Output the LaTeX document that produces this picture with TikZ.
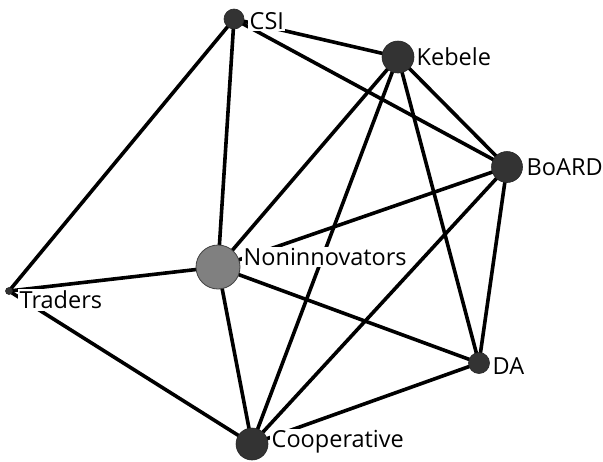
\documentclass[tikz,border=0pt]{standalone}
\usepackage{fontspec}
\setmainfont{Open Sans}
\begin{document}
\begin{tikzpicture}[x=1pt,y=-1pt,
  actor/.style={circle,fill=black!80,draw=black!85,line width=0.6pt,inner sep=0pt,minimum size=#1},
  grayactor/.style={circle,fill=black!50,draw=black!75,line width=0.8pt,inner sep=0pt,minimum size=#1},
  lbl/.style={anchor=west,inner sep=1.5pt,fill=white,font=\fontsize{23.5}{26}\selectfont},
  tie/.style={line width=3.6pt,black}]
\useasboundingbox (0,0) rectangle (603,461);
% node positions
\coordinate (pCSI) at (234,19);
\coordinate (pKeb) at (398,57);
\coordinate (pBo) at (507,167);
\coordinate (pNon) at (218,267);
\coordinate (pTr) at (9,291);
\coordinate (pDA) at (479,363);
\coordinate (pCo) at (252,444);
% ties
\draw[tie] (pCSI) -- (pKeb);
\draw[tie] (pCSI) -- (pBo);
\draw[tie] (pCSI) -- (pTr);
\draw[tie] (pCSI) -- (pNon);
\draw[tie] (pKeb) -- (pBo);
\draw[tie] (pKeb) -- (pNon);
\draw[tie] (pKeb) -- (pCo);
\draw[tie] (pKeb) -- (pDA);
\draw[tie] (pBo) -- (pNon);
\draw[tie] (pBo) -- (pCo);
\draw[tie] (pBo) -- (pDA);
\draw[tie] (pNon) -- (pTr);
\draw[tie] (pNon) -- (pDA);
\draw[tie] (pNon) -- (pCo);
\draw[tie] (pTr) -- (pCo);
\draw[tie] (pDA) -- (pCo);
% actors
\node[actor=20pt] (CSI) at (pCSI) {};
\node[actor=32pt] (Keb) at (pKeb) {};
\node[actor=31pt] (Bo) at (pBo) {};
\node[grayactor=44pt] (Non) at (pNon) {};
\node[actor=7pt] (Tr) at (pTr) {};
\node[actor=21pt] (DA) at (pDA) {};
\node[actor=32pt] (Co) at (pCo) {};
% labels
\node[lbl] (lCSI) at (248,21) {CSI};
\node[lbl] (lKeb) at (415,57) {Kebele};
\node[lbl] (lBo) at (525,167) {BoARD};
\node[lbl] (lNon) at (242,257) {Noninnovators};
\node[lbl] (lTr) at (18,300) {Traders};
\node[lbl] (lDA) at (491,366) {DA};
\node[lbl] (lCo) at (270,442) {Cooperative};
\end{tikzpicture}
\end{document}
